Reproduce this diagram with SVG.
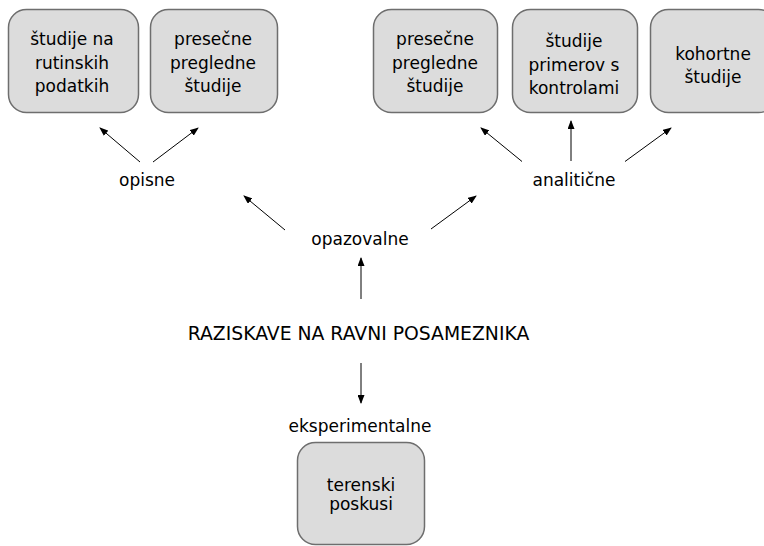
<svg xmlns="http://www.w3.org/2000/svg" width="764" height="546" viewBox="0 0 764 546">
<defs>
<marker id="ah" markerWidth="9" markerHeight="7" refX="8" refY="3.5" orient="auto" markerUnits="userSpaceOnUse">
<path d="M0,0 L9,3.5 L0,7 z" fill="#000"/>
</marker>
<style>
.box{fill:#dcdcdc;stroke:#6e6e6e;stroke-width:1.5}
.t{font-family:"DejaVu Sans",sans-serif;font-size:17px;fill:#000;text-anchor:middle}
.ttl{font-family:"DejaVu Sans",sans-serif;font-size:18.8px;fill:#000;text-anchor:middle}
.c{stroke:#000;stroke-width:1;fill:none;marker-end:url(#ah)}
</style>
</defs>
<rect width="764" height="546" fill="#fff"/>
<g id="connectors">
<line class="c" x1="361" y1="299" x2="361" y2="258"/>
<line class="c" x1="361" y1="363" x2="361" y2="403"/>
<line class="c" x1="285" y1="230" x2="244" y2="196"/>
<line class="c" x1="431" y1="229" x2="476" y2="196"/>
<line class="c" x1="140" y1="162" x2="100" y2="128"/>
<line class="c" x1="153" y1="162" x2="198" y2="128"/>
<line class="c" x1="522" y1="161.5" x2="481" y2="128"/>
<line class="c" x1="571" y1="161" x2="571" y2="121"/>
<line class="c" x1="625" y1="161.5" x2="671" y2="128"/>
</g>
<g id="n1"><rect class="box" x="8.5" y="9.5" width="130" height="103" rx="18"/>
<text class="t" x="72" y="45">študije na</text><text class="t" x="72" y="68.5">rutinskih</text><text class="t" x="72" y="92">podatkih</text></g>
<g id="n2"><rect class="box" x="150.5" y="9.5" width="127" height="103" rx="18"/>
<text class="t" x="213" y="45">presečne</text><text class="t" x="213" y="68.5">pregledne</text><text class="t" x="213" y="92">študije</text></g>
<g id="n3"><rect class="box" x="373.5" y="9.5" width="124" height="103" rx="18"/>
<text class="t" x="435" y="45">presečne</text><text class="t" x="435" y="68.5">pregledne</text><text class="t" x="435" y="92">študije</text></g>
<g id="n4"><rect class="box" x="512.5" y="9.5" width="125" height="103" rx="18"/>
<text class="t" x="574" y="47">študije</text><text class="t" x="574" y="70.5">primerov s</text><text class="t" x="574" y="94">kontrolami</text></g>
<g id="n5"><rect class="box" x="650.5" y="9.5" width="126" height="103" rx="18"/>
<text class="t" x="713" y="60">kohortne</text><text class="t" x="713" y="83">študije</text></g>
<g id="opisne"><text class="t" x="147" y="186">opisne</text></g>
<g id="analiticne"><text class="t" x="574" y="185.5">analitične</text></g>
<g id="opazovalne"><text class="t" x="360" y="245">opazovalne</text></g>
<g id="root"><text class="ttl" x="358.5" y="340">RAZISKAVE NA RAVNI POSAMEZNIKA</text></g>
<g id="eksperimentalne"><text class="t" x="360" y="432">eksperimentalne</text></g>
<g id="n6"><rect class="box" x="297.5" y="442.5" width="127" height="102" rx="18"/>
<text class="t" x="361" y="491">terenski</text><text class="t" x="361" y="510">poskusi</text></g>
</svg>
